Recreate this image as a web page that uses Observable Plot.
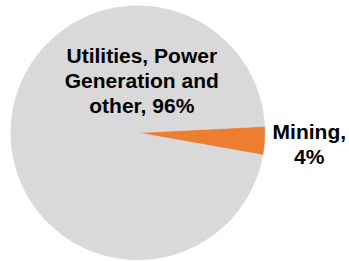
<!DOCTYPE html>
<html>
<head>
<meta charset="utf-8">
<script src="https://cdn.jsdelivr.net/npm/d3@7"></script>
<script src="https://cdn.jsdelivr.net/npm/@observablehq/plot@0.6"></script>
<style>
  html, body { margin: 0; padding: 0; background: #ffffff; }
  #chart svg { display: block; }
</style>
</head>
<body>
<div id="chart"></div>
<script>
// ---- data ----
const categories = ["Mining", "Utilities, Power Generation and other"];
const shares = [3.6, 96.4];            // percent
const sliceColors = ["#ED7D31", "#D9D9D9"];

// ---- layout (styles/positions kept out of data) ----
const startAngleDeg = 87.1;            // clockwise from 12 o'clock, first slice
const labelPlacement = {
  "Mining": {r: 1.353, useMid: true, lineWidth: 4.2},
  "Utilities, Power Generation and other": {r: 0.419, angle: 4.3, lineWidth: 8}
};

const total = d3.sum(shares);
const rad = Math.PI / 180;
const slices = [];
let a0 = startAngleDeg;
categories.forEach((name, i) => {
  const span = shares[i] / total * 360;
  slices.push({name, value: shares[i], a0, a1: a0 + span});
  a0 += span;
});

// polygon points for each slice (unit circle, y up)
const pts = [];
for (const s of slices) {
  pts.push({name: s.name, x: 0, y: 0});
  const n = Math.max(2, Math.ceil((s.a1 - s.a0) / 0.5));
  for (let k = 0; k <= n; k++) {
    const a = (s.a0 + (s.a1 - s.a0) * k / n) * rad;
    pts.push({name: s.name, x: Math.sin(a), y: Math.cos(a)});
  }
  pts.push({name: s.name, x: 0, y: 0});
}

const labels = slices.map(s => {
  const p = labelPlacement[s.name];
  const ang = (p.useMid ? (s.a0 + s.a1) / 2 : p.angle) * rad;
  return {
    name: s.name,
    text: `${s.name}, ${Math.round(s.value)}%`,
    x: p.r * Math.sin(ang),
    y: p.r * Math.cos(ang),
    lineWidth: p.lineWidth
  };
});

const textMark = (d) => Plot.text([d], {
  x: "x", y: "y", text: "text",
  lineWidth: d.lineWidth,
  lineHeight: 1.19,
  fontSize: 21,
  fontWeight: "bold",
  fontFamily: "Liberation Sans, Arial, Helvetica, sans-serif",
  fill: "#000000",
  textAnchor: "middle"
});

const chart = Plot.plot({
  width: 349,
  height: 261,
  marginLeft: 10.3,
  marginRight: 84.7,
  marginTop: 5.3,
  marginBottom: 1.7,
  x: {domain: [-1, 1], axis: null},
  y: {domain: [-1, 1], axis: null},
  color: {domain: categories, range: sliceColors},
  style: {background: "#ffffff", fontFamily: "Liberation Sans, Arial, sans-serif"},
  marks: [
    Plot.line(pts, {x: "x", y: "y", z: "name", fill: "name", stroke: "name", strokeWidth: 0.5, curve: "linear"}),
    ...labels.map(textMark)
  ]
});
document.getElementById("chart").append(chart);
</script>
</body>
</html>
